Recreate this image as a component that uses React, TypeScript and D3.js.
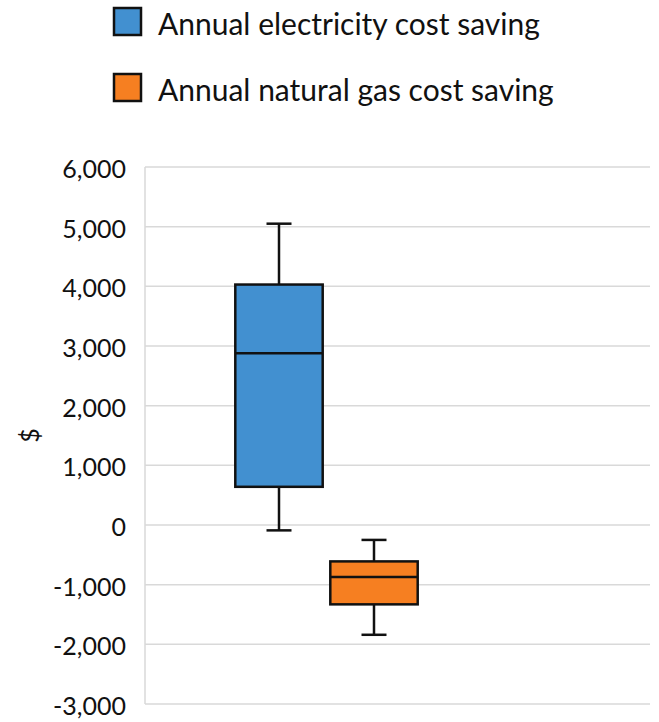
import React from 'react';
import * as d3 from 'd3';

const seriesNames = ['Annual electricity cost saving', 'Annual natural gas cost saving'];
const seriesColors = ['#4290d0', '#f67f21'];
const whiskerMax = [5050, -250];
const q3 = [4030, -610];
const median = [2880, -870];
const q1 = [640, -1330];
const whiskerMin = [-90, -1840];
const yTicks = [-3000, -2000, -1000, 0, 1000, 2000, 3000, 4000, 5000, 6000];

const W = 659;
const H = 722;
const plot = { left: 145, right: 650, top: 167, bottom: 704 };
const font = 'Lato, "Open Sans", sans-serif';

export default function App() {
  const y = d3.scaleLinear().domain([-3000, 6000]).range([plot.bottom, plot.top]);
  const x = d3.scaleBand<string>()
    .domain(seriesNames)
    .range([231.5, 421.5])
    .paddingInner(0.08)
    .paddingOuter(0.04);
  // plain hyphen for negatives, like the original
  const fmt = (v: number) => d3.format(',')(v).replace('\u2212', '-');
  const bw = x.bandwidth();
  const capW = 25;

  return (
    <svg width={W} height={H} style={{ position: 'absolute', left: 0, top: 0, background: '#fff' }}>
      {/* legend */}
      {seriesNames.map((name, i) => (
        <g key={name} transform={`translate(114,${8 + i * 66})`}>
          <rect x={0} y={0} width={27} height={27} fill={seriesColors[i]} stroke="#111" strokeWidth={2.5} />
          <text x={44} y={15} dominantBaseline="central" fontFamily={font} fontSize={30} fill="#111">
            {name}
          </text>
        </g>
      ))}

      {/* gridlines */}
      {yTicks.map(t => (
        <line key={t} x1={plot.left} x2={plot.right} y1={y(t)} y2={y(t)} stroke="#d9d9d9" strokeWidth={1.5} />
      ))}
      <line x1={plot.left} x2={plot.left} y1={plot.top} y2={plot.bottom} stroke="#d9d9d9" strokeWidth={1.5} />

      {/* tick labels */}
      {yTicks.map(t => (
        <text key={t} x={126} y={y(t) + 1} textAnchor="end" dominantBaseline="central"
          fontFamily={font} fontSize={25} fill="#111">
          {fmt(t)}
        </text>
      ))}

      {/* axis title */}
      <text transform={`translate(29,${(plot.top + plot.bottom) / 2}) rotate(-90)`} textAnchor="middle"
        dominantBaseline="central" fontFamily={font} fontSize={25} fill="#111">
        $
      </text>

      {/* boxes */}
      {seriesNames.map((name, i) => {
        const x0 = x(name) || 0;
        const cx = x0 + bw / 2;
        return (
          <g key={name} stroke="#111" strokeWidth={2.5}>
            <line x1={cx} x2={cx} y1={y(whiskerMax[i])} y2={y(q3[i])} />
            <line x1={cx} x2={cx} y1={y(q1[i])} y2={y(whiskerMin[i])} />
            <line x1={cx - capW / 2} x2={cx + capW / 2} y1={y(whiskerMax[i])} y2={y(whiskerMax[i])} />
            <line x1={cx - capW / 2} x2={cx + capW / 2} y1={y(whiskerMin[i])} y2={y(whiskerMin[i])} />
            <rect x={x0} y={y(q3[i])} width={bw} height={y(q1[i]) - y(q3[i])} fill={seriesColors[i]} />
            <line x1={x0} x2={x0 + bw} y1={y(median[i])} y2={y(median[i])} />
          </g>
        );
      })}
    </svg>
  );
}
